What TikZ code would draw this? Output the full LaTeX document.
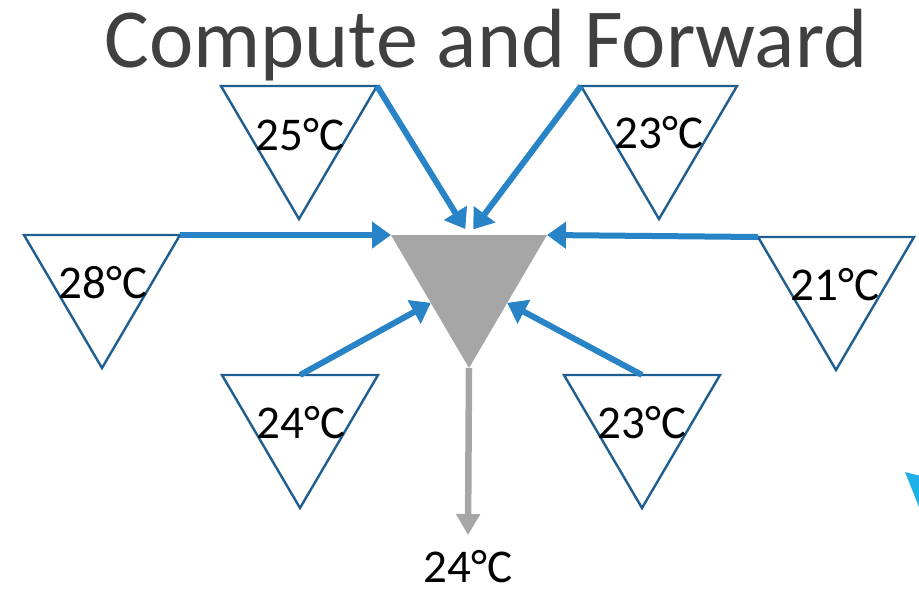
\documentclass[tikz,border=0pt]{standalone}
\usepackage{fontspec}
\setmainfont{Carlito}
\usetikzlibrary{arrows.meta,calc}
\definecolor{arrowblue}{RGB}{40,131,199}
\definecolor{triblue}{RGB}{31,94,145}
\definecolor{midgray}{RGB}{166,166,166}
\definecolor{titlegray}{RGB}{64,64,64}
\definecolor{cyanshape}{RGB}{30,176,230}
\newcommand{\invtri}[4]{%
  \coordinate (#1-l) at (#2-78,#3);
  \coordinate (#1-r) at (#2+78,#3);
  \coordinate (#1-b) at (#2,#3+133);
  \coordinate (#1-m) at (#2,#3);
  \path[#4] (#1-l) -- (#1-r) -- (#1-b) -- cycle;
}
\begin{document}
\begin{tikzpicture}[x=1pt,y=-1pt,
  sensor/.style={draw=triblue,line width=2.4pt,fill=white,line join=miter},
  relay/.style={fill=midgray},
  flow/.style={draw=arrowblue,line width=6pt,-{Triangle[length=19pt,width=26pt]}},
  outflow/.style={draw=midgray,line width=6.5pt,-{Triangle[length=21pt,width=23pt]}},
  temp/.style={anchor=base,font=\fontsize{47}{56}\selectfont,inner sep=0pt,text=black,text depth=0pt},
  title/.style={anchor=base,font=\fontsize{84}{100}\selectfont,inner sep=0pt,text=titlegray},
]
\useasboundingbox (0,0) rectangle (919,590);
\node[title] (ttl) at (486,67) {Compute and Forward};
% sensors
\invtri{s25}{299}{86}{sensor}
\invtri{s23a}{659}{86}{sensor}
\invtri{s28}{102}{235}{sensor}
\invtri{s21}{836}{237}{sensor}
\invtri{s24}{300}{375}{sensor}
\invtri{s23b}{642}{375}{sensor}
% relay
\invtri{c}{469}{235}{relay}
\coordinate (c-lm) at ($(c-l)!0.51!(c-b)$);
\coordinate (c-rm) at ($(c-r)!0.51!(c-b)$);
% arrows
\draw[flow,shorten >=7pt] (s25-r) -- (c-m);
\draw[flow,shorten >=7pt] (s23a-l) -- (c-m);
\draw[flow] (s28-r) -- (c-l);
\draw[flow] (s21-l) -- (c-r);
\draw[flow] (s24-m) -- (c-lm);
\draw[flow] (s23b-m) -- (c-rm);
\coordinate (outend) at (468,535);
\draw[outflow] (c-b) -- (outend);
% labels
\node[temp] (l25) at (300,150) {25°C};
\node[temp] (l23a) at (659,148) {23°C};
\node[temp] (l28) at (103,298) {28°C};
\node[temp] (l21) at (835,300) {21°C};
\node[temp] (l24) at (301,438) {24°C};
\node[temp] (l23b) at (642,438) {23°C};
\node[temp] (res) at (468,582) {24°C};
% partial shape at the edge
\fill[cyanshape] (905,472) -- (919,475.5) -- (919,507) -- cycle;
\end{tikzpicture}
\end{document}
